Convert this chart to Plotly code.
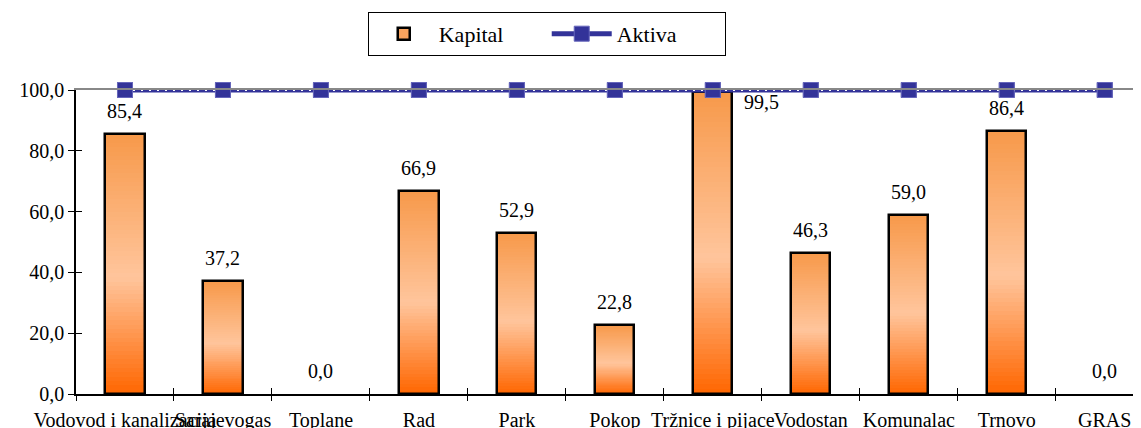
import plotly.graph_objects as go

categories = ["Vodovod i kanalizacija", "Sarajevogas", "Toplane", "Rad", "Park",
              "Pokop", "Tržnice i pijace", "Vodostan", "Komunalac", "Trnovo", "GRAS"]
kapital = [85.4, 37.2, 0.0, 66.9, 52.9, 22.8, 99.5, 46.3, 59.0, 86.4, 0.0]
aktiva = [100.0] * 11
y_ticks = [0, 20, 40, 60, 80, 100]

FONT = "Liberation Serif"
BAR_W = 0.4
x = list(range(len(categories)))
bounds = [i - 0.5 for i in x]
XR = [-0.5, 10.37]

def hex2rgb(h):
    h = h.lstrip("#")
    return tuple(int(h[i:i + 2], 16) for i in (0, 2, 4))

stops = [(0.0, hex2rgb("#FF6600")), (0.45, hex2rgb("#FFC59C")), (1.0, hex2rgb("#F7994A"))]

def grad(t):
    for (t0, c0), (t1, c1) in zip(stops[:-1], stops[1:]):
        if t0 <= t <= t1:
            f = (t - t0) / (t1 - t0)
            return "rgb(%d,%d,%d)" % tuple(round(a + (b - a) * f) for a, b in zip(c0, c1))
    return "rgb(%d,%d,%d)" % stops[-1][1]

fig = go.Figure()
N = 60
for i in range(N):
    t = (i + 0.5) / N
    fig.add_trace(go.Bar(
        x=x, y=[v / N if v else None for v in kapital],
        base=[v * i / N for v in kapital],
        width=BAR_W, marker=dict(color=grad(t), line=dict(width=0)),
        showlegend=False, hoverinfo="skip"))

# outline
fig.add_trace(go.Bar(
    x=x, y=[v if v else None for v in kapital], width=BAR_W, name="Kapital",
    marker=dict(color="rgba(0,0,0,0)", line=dict(color="black", width=2.5)),
    showlegend=False))
# legend entry for Kapital
fig.add_trace(go.Bar(
    x=[None], y=[None], name="Kapital",
    marker=dict(color="#F9A35E", line=dict(color="black", width=2.5))))

mk = dict(symbol="square", size=15, color="#333399", line=dict(color="#6666BB", width=1))
fig.add_trace(go.Scatter(
    x=x, y=aktiva, mode="lines+markers", name="Aktiva",
    line=dict(color="#333399", width=5), marker=mk, cliponaxis=False))
fig.add_trace(go.Scatter(
    x=x, y=aktiva, mode="lines", showlegend=False, hoverinfo="skip",
    line=dict(color="white", width=2, dash="2px,6px"), cliponaxis=False))
fig.add_trace(go.Scatter(
    x=x, y=aktiva, mode="markers", showlegend=False, hoverinfo="skip",
    marker=mk, cliponaxis=False))

# dummy traces to activate overlay axes
fig.add_trace(go.Scatter(x=[None], y=[None], xaxis="x2", showlegend=False))
fig.add_trace(go.Scatter(x=[None], y=[None], xaxis="x3", showlegend=False))
fig.add_trace(go.Scatter(x=[None], y=[None], xaxis="x4", showlegend=False))
fig.add_trace(go.Scatter(x=[None], y=[None], yaxis="y2", showlegend=False))

annotations = []
for xi, v in zip(x, kapital):
    label = ("%.1f" % v).replace(".", ",")
    if v > 95:
        annotations.append(dict(x=xi, y=v, text=label, showarrow=False,
                                xshift=49, yshift=-10,
                                font=dict(family=FONT, size=20, color="black")))
    else:
        annotations.append(dict(x=xi, y=v, text=label, showarrow=False, yshift=23,
                                font=dict(family=FONT, size=20, color="black")))

W, H = 1133, 420  # page body has 8px margin
fig.update_layout(
    width=W, height=H,
    margin=dict(l=68, r=0, t=82, b=34, autoexpand=False),
    paper_bgcolor="white", plot_bgcolor="white",
    barmode="overlay", bargap=0,
    separators=",.",
    font=dict(family=FONT, size=20, color="black"),
    showlegend=True,
    legend=dict(orientation="h", x=0.442, xanchor="center", y=1.257, yanchor="top",
                bordercolor="black", borderwidth=1, bgcolor="white",
                font=dict(family=FONT, size=22), itemwidth=60, entrywidth=103,
                traceorder="normal"),
    annotations=annotations,
    xaxis=dict(tickmode="array", tickvals=x, ticktext=categories, tickangle=0,
               range=XR, showline=True, linecolor="black", linewidth=1.5,
               ticks="outside", ticklen=7, tickcolor="rgba(0,0,0,0)",
               showgrid=False, zeroline=False, automargin=False,
               tickfont=dict(family=FONT, size=20)),
    xaxis2=dict(overlaying="x", side="top", range=XR, showline=True,
                linecolor="#888888", linewidth=2, showticklabels=False, ticks="",
                showgrid=False, zeroline=False),
    xaxis3=dict(overlaying="x", side="bottom", range=XR, tickmode="array",
                tickvals=bounds, ticks="outside", ticklen=6, tickwidth=1.2,
                tickcolor="black", showticklabels=False, showline=False,
                showgrid=False, zeroline=False),
    xaxis4=dict(overlaying="x", side="bottom", range=XR, tickmode="array",
                tickvals=bounds, ticks="inside", ticklen=6, tickwidth=1.2,
                tickcolor="black", showticklabels=False, showline=False,
                showgrid=False, zeroline=False),
    yaxis=dict(range=[0, 100], tickmode="array", tickvals=y_ticks, tickformat=".1f",
               showline=True, linecolor="black", linewidth=1.5, ticks="outside",
               ticklen=6, tickwidth=1.2, tickcolor="black", showgrid=False, zeroline=False,
               automargin=False, tickfont=dict(family=FONT, size=20)),
    yaxis2=dict(overlaying="y", side="left", range=[0, 100], tickmode="array",
                tickvals=y_ticks, ticks="inside", ticklen=6, tickwidth=1.2,
                tickcolor="black", showticklabels=False, showline=False,
                showgrid=False, zeroline=False),
)
fig.write_html("out.html")
